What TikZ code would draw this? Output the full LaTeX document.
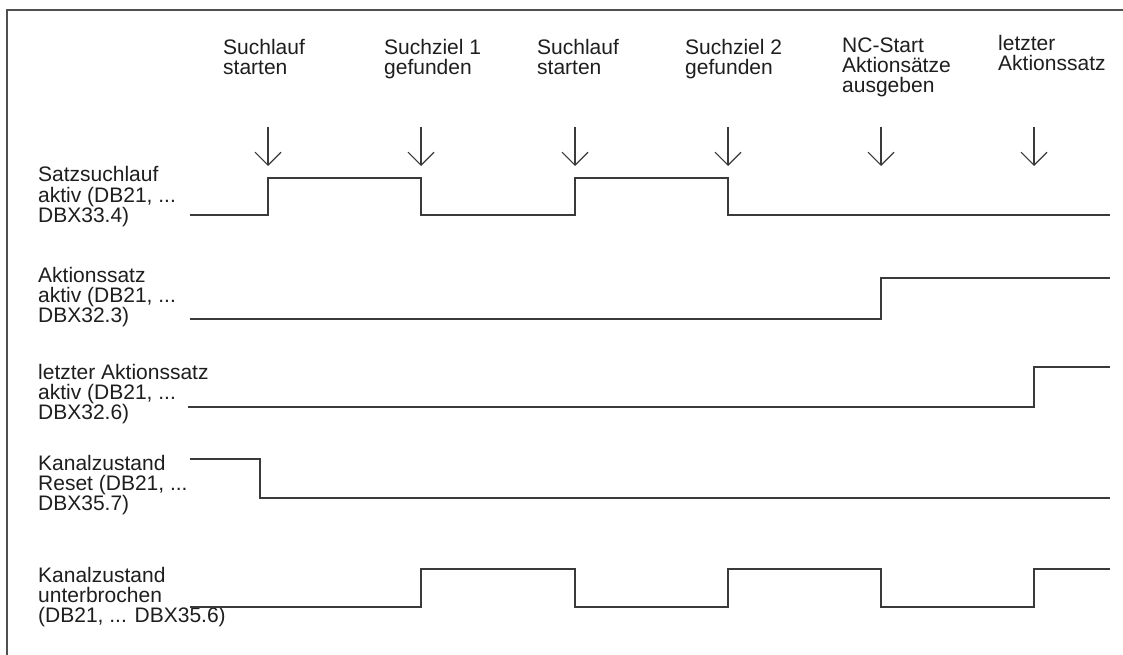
\documentclass[tikz,border=0pt]{standalone}
\usepackage{fontspec}
\setmainfont{Liberation Sans}
\usetikzlibrary{arrows.meta}
\definecolor{sig}{HTML}{3A3A3A}
\definecolor{txt}{HTML}{1E1E1E}
\definecolor{frm}{HTML}{505050}
\begin{document}
\begin{tikzpicture}[x=1pt,y=-1pt,
  lbl/.style={anchor=base west,inner sep=0pt,align=left,text=txt,
    font=\fontsize{21}{20}\selectfont},
  sigline/.style={draw=sig,line width=1.3pt,line join=miter},
  evarrow/.style={draw=sig,line width=1.1pt,-{Straight Barb[length=13pt,width=26pt,line width=1.1pt]}},
  frameline/.style={draw=frm,line width=1.5pt}]
\useasboundingbox (0,0) rectangle (1123,655);
\fill[white] (0,0) rectangle (1123,655);
% frame
\draw[frameline] (1123,10) -- (7,10) -- (7,655);
% event labels (anchor = baseline of last line)
\node[lbl] (e1) at (223,75) {Suchlauf\\starten};
\node[lbl] (e2) at (384,75) {Suchziel 1\\gefunden};
\node[lbl] (e3) at (537,75) {Suchlauf\\starten};
\node[lbl] (e4) at (685,75) {Suchziel 2\\gefunden};
\node[lbl] (e5) at (842,93) {NC-Start\\Aktionsätze\\ausgeben};
\node[lbl] (e6) at (998,71) {letzter\\Aktionssatz};
% event arrows
\foreach \i/\x in {1/268,2/421,3/575,4/728,5/881,6/1034}{
  \coordinate (a\i) at (\x,127);
  \coordinate (b\i) at (\x,166);
  \draw[evarrow] (a\i) -- (b\i);
}
% signal labels
\node[lbl] (s1) at (38,222) {Satzsuchlauf\\aktiv (DB21, ...\\DBX33.4)};
\node[lbl] (s2) at (38,322) {Aktionssatz\\aktiv (DB21, ...\\DBX32.3)};
\node[lbl] (s3) at (38,419) {letzter Aktionssatz\\aktiv (DB21, ...\\DBX32.6)};
\node[lbl] (s4) at (38,510) {Kanalzustand\\Reset (DB21, ...\\DBX35.7)};
\node[lbl] (s5) at (38,622) {Kanalzustand\\unterbrochen\\(DB21, ... DBX35.6)};
% signals
\draw[sigline] (190,215) -- (268,215) -- (268,178) -- (421,178) -- (421,215)
  -- (575,215) -- (575,178) -- (728,178) -- (728,215) -- (1110,215);
\draw[sigline] (190,319) -- (881,319) -- (881,278) -- (1110,278);
\draw[sigline] (188,407) -- (1034,407) -- (1034,367) -- (1110,367);
\draw[sigline] (190,459) -- (260,459) -- (260,498) -- (1110,498);
\draw[sigline] (190,607) -- (421,607) -- (421,569) -- (575,569) -- (575,607)
  -- (728,607) -- (728,569) -- (881,569) -- (881,607) -- (1034,607)
  -- (1034,569) -- (1110,569);
\end{tikzpicture}
\end{document}
